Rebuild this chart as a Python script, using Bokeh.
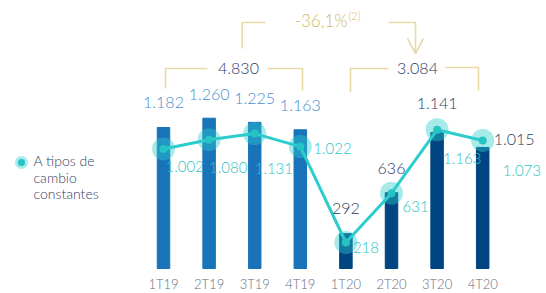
from bokeh.plotting import figure
from bokeh.models import Range1d
from bokeh.embed import file_html
from bokeh.resources import INLINE
from bokeh.core.properties import value

# ---------------- data ----------------
quarters = ["1T19", "2T19", "3T19", "4T19", "1T20", "2T20", "3T20", "4T20"]
current_values = [1182, 1260, 1225, 1163, 292, 636, 1141, 1015]
constant_values = [1002, 1080, 1131, 1022, 218, 631, 1163, 1073]
legend_text = ["A tipos de", "cambio", "constantes"]
change_note = "(2)"


def fmt(v):
    return f"{v:,}".replace(",", ".")


total_2019 = sum(v for q, v in zip(quarters, current_values) if q.endswith("19"))
total_2020 = sum(v for q, v in zip(quarters, current_values) if q.endswith("20"))
change = (total_2020 / total_2019 - 1) * 100
change_text = f"{int(change * 10) / 10:.1f}%".replace(".", ",")

# ---------------- layout helpers (page pixel -> data) ----------------
X0, SX = 163.0, 45.6      # page x of first category, px per category
Y0, SY = 268.0, 0.1193    # page y of value 0, px per unit


def dx(px):
    return (px - X0) / SX


def dy(py):
    return (Y0 - py) / SY


FONT = value("'Lato Light', Lato")
BLUE19 = "#1973B8"
NAVY20 = "#004481"
AQUA = "#2DCCCD"
GOLD_LINE = "#EAD9A8"
GOLD_TEXT = "#D3B768"

W, H = 546, 293
p = figure(width=W, height=H, output_backend="svg", toolbar_location=None,
           x_range=Range1d(dx(0), dx(W)), y_range=Range1d(dy(H), dy(0)),
           x_axis_location=None, y_axis_location=None, min_border=0)
p.grid.visible = False
p.outline_line_color = None
p.background_fill_color = "white"

idx = list(range(len(quarters)))
bar_colors = [BLUE19 if q.endswith("19") else NAVY20 for q in quarters]

p.vbar(x=idx, top=current_values, bottom=0, width=12.5 / SX, color=bar_colors)

p.line(idx, constant_values, line_color=AQUA, line_width=3)
p.scatter(idx, constant_values, size=23, fill_color=AQUA, fill_alpha=0.42, line_color=None)
p.scatter(idx, constant_values, size=8, fill_color="#27C3C4", line_color=None)

# bar value labels
bar_label_colors = ["#4A8ED0" if q.endswith("19") else "#2A3C68" for q in quarters]
bar_xoff = [0, 0, 0, 0, 0, 0, 0, 11]
bar_yoff = [-25, -24, -24, -24, -25, -24, -29, -8]
bar_align = ["center"] * 7 + ["left"]
p.text(x=idx, y=current_values, text=[fmt(v) for v in current_values],
       x_offset=bar_xoff, y_offset=bar_yoff, text_align=bar_align,
       text_baseline="middle", text_font=FONT, text_font_size="16px",
       text_color=bar_label_colors)

# constant-rate labels
c_xoff = [2, 0, 0, 13, 7, 11, 6, 20]
c_yoff = [18, 28, 35, 2, 5, 13, 29, 30]
p.text(x=idx, y=constant_values, text=[fmt(v) for v in constant_values],
       x_offset=c_xoff, y_offset=c_yoff, text_align="left", text_baseline="middle",
       text_font=FONT, text_font_size="15px", text_color="#2CC3C4")

# category labels
p.text(x=idx, y=[dy(283)] * len(idx), text=quarters, text_align="center",
       text_baseline="middle", text_font=FONT, text_font_size="13px",
       text_color="#5F6D86")

# brackets
brackets = [
    ([241.7, 241.7, 265], [48, 22, 22]),
    ([388, 415, 415], [22, 22, 53]),
    ([407, 415, 423], [38, 53, 38]),
    ([165, 165, 207], [88, 68, 68]),
    ([267, 302, 302], [68, 68, 90]),
    ([350, 350, 388], [92, 68, 68]),
    ([445, 478, 478], [67, 67, 90]),
]
p.multi_line(xs=[[dx(v) for v in b[0]] for b in brackets],
             ys=[[dy(v) for v in b[1]] for b in brackets],
             line_color=GOLD_LINE, line_width=1.6)

p.text(x=[dx(238), dx(417)], y=[dy(68), dy(68)], text=[fmt(total_2019), fmt(total_2020)],
       text_align="center", text_baseline="middle", text_font=FONT,
       text_font_size="16px", text_color="#2A3C68")
p.text(x=[dx(347)], y=[dy(20)], text=[change_text], text_align="right",
       text_baseline="middle", text_font=FONT, text_font_size="17px", text_color=GOLD_TEXT)
p.text(x=[dx(348)], y=[dy(15)], text=[change_note], text_align="left",
       text_baseline="middle", text_font=FONT, text_font_size="11px", text_color=GOLD_TEXT)

# legend
p.scatter([dx(21)], [dy(162)], size=13, fill_color=AQUA, fill_alpha=0.42, line_color=None)
p.scatter([dx(21)], [dy(162)], size=7, fill_color="#27C3C4", line_color=None)
p.text(x=[dx(33)] * 3, y=[dy(160), dy(177), dy(193)], text=legend_text,
       text_align="left", text_baseline="middle", text_font=FONT,
       text_font_size="14px", text_color="#33405F")

open("out.html", "w").write(file_html(p, INLINE))
